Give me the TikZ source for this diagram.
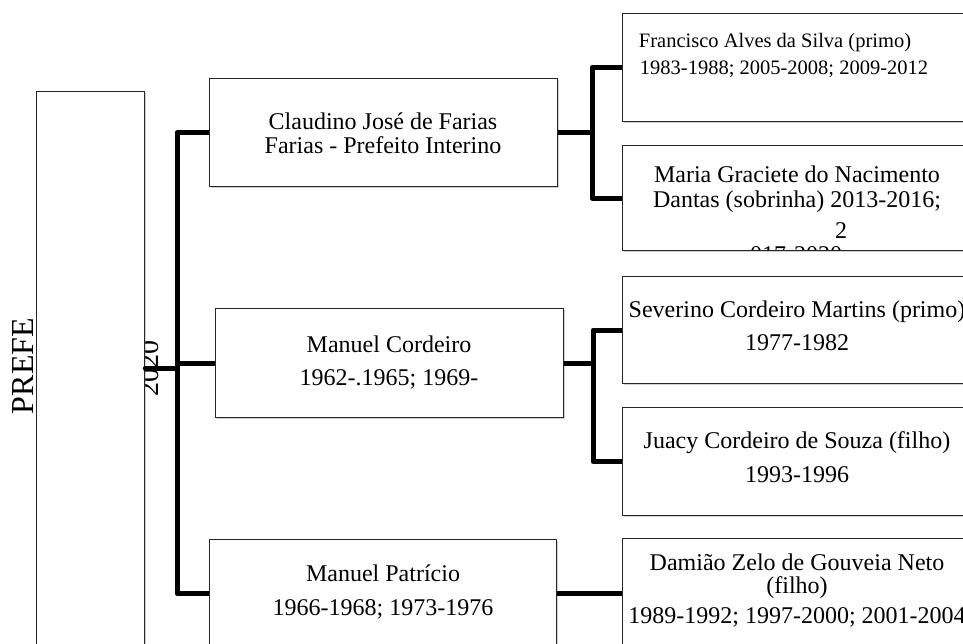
\documentclass[tikz,border=0pt]{standalone}
\usepackage{fontspec}
\setmainfont{Liberation Serif}
\usetikzlibrary{shadows}
\begin{document}
\begin{tikzpicture}[x=1pt,y=-1pt,
  box/.style={draw=black!85, line width=1.3pt, fill=white, inner sep=0pt, anchor=north west,
    drop shadow={shadow xshift=1.2pt, shadow yshift=-1.6pt, opacity=0.3, fill=black!60}},
  conn/.style={line width=5pt, black, line join=round},
  big/.style={font=\fontsize{24}{24}\selectfont, anchor=base, inner sep=0pt},
  small/.style={font=\fontsize{20.5}{20.5}\selectfont, anchor=base, inner sep=0pt},
  vert/.style={rotate=90, anchor=base, inner sep=0pt}]

\fill[white] (0,0) rectangle (963,643);
\useasboundingbox (0,0) rectangle (963,643);
\clip (0,0) rectangle (963,643);

% rotated labels
\node[vert, font=\fontsize{32}{32}\selectfont] (prefe) at (33,366) {PREFE};
\node[vert, font=\fontsize{28}{28}\selectfont] (yr) at (158,368) {2020};

% boxes
\node[box, minimum width=108pt, minimum height=600pt] (pref) at (36,91) {};
\node[box, minimum width=348pt, minimum height=108pt] (clau) at (209,78) {};
\node[box, minimum width=348pt, minimum height=109pt] (cord) at (215,308) {};
\node[box, minimum width=347pt, minimum height=108pt] (patr) at (209,539) {};
\node[box, minimum width=350pt, minimum height=108pt] (fran) at (622,13) {};
\node[box, minimum width=350pt, minimum height=105pt] (maria) at (622,145) {};
\node[box, minimum width=350pt, minimum height=107pt] (seve) at (622,276) {};
\node[box, minimum width=350pt, minimum height=108pt] (juac) at (622,407) {};
\node[box, minimum width=350pt, minimum height=110pt] (dami) at (622,538) {};

% connectors
\coordinate (tr) at (177,0);
\coordinate (hub) at (177,368);
\coordinate (r1) at (592,0);
\coordinate (r2) at (593,0);
\draw[conn] (clau.west) -- (clau.west -| tr) -- (patr.west -| tr) -- (patr.west);
\draw[conn] (cord.west) -- (cord.west -| tr);
\draw[conn, line cap=round] (pref.east |- hub) -- (hub);
\draw[conn] (clau.east) -- (clau.east -| r1);
\draw[conn] (fran.west) -- (fran.west -| r1) -- (maria.west -| r1) -- (maria.west);
\draw[conn] (cord.east) -- (cord.east -| r2);
\draw[conn] (seve.west) -- (seve.west -| r2) -- (juac.west -| r2) -- (juac.west);
\draw[conn] (patr.east) -- (dami.west);

% texts, left column
\node[big] (c1) at (383,129) {Claudino José de Farias};
\node[big] (c2) at (383,153) {Farias - Prefeito Interino};
\node[big] (m1) at (389,352) {Manuel Cordeiro};
\node[big] (m2) at (389,385) {1962-.1965; 1969-};
\node[big] (p1) at (383,581) {Manuel Patrício};
\node[big] (p2) at (383,615) {1966-1968; 1973-1976};

% texts, right column
\node[small] (f1) at (775,47) {Francisco Alves da Silva (primo)};
\node[small] (f2) at (784,74) {1983-1988; 2005-2008; 2009-2012};
\begin{scope}
  \clip (623,146) rectangle (971,249);
  \node[big] (g1) at (797,182) {Maria Graciete do Nacimento};
  \node[big] (g2) at (797,207) {Dantas (sobrinha) 2013-2016;};
  \node[big] (g3) at (841,238) {2};
  \node[big] (g4) at (796,262) {017-2020};
\end{scope}
\node[big] (s1) at (797,317) {Severino Cordeiro Martins (primo)};
\node[big] (s2) at (797,350) {1977-1982};
\node[big] (j1) at (797,448) {Juacy Cordeiro de Souza (filho)};
\node[big] (j2) at (797,482) {1993-1996};
\node[big] (d1) at (797,570) {Damião Zelo de Gouveia Neto};
\node[big] (d2) at (797,593) {(filho)};
\node[big] (d3) at (797,623) {1989-1992; 1997-2000; 2001-2004};
\end{tikzpicture}
\end{document}
